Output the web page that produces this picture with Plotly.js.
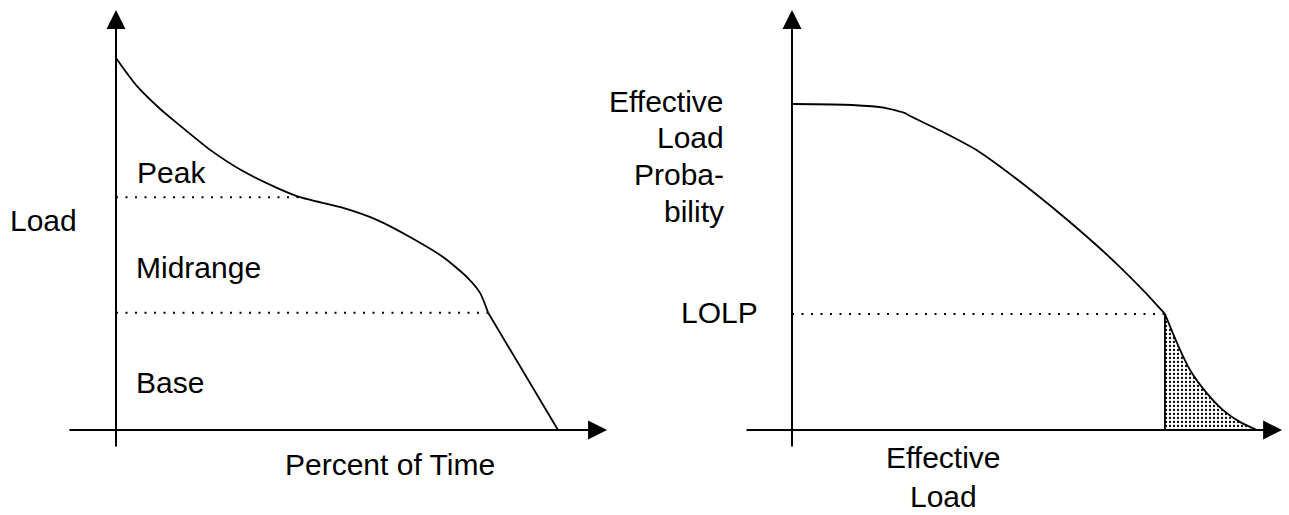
<!DOCTYPE html>
<html>
<head>
<meta charset="utf-8">
<script src="https://cdn.plot.ly/plotly-3.0.1.min.js"></script>
<style>
html,body{margin:0;padding:0;background:#fff;}
#chart{width:1289px;height:515px;}
</style>
</head>
<body>
<div id="chart"></div>
<script>
// ---------- Data ----------
// Left panel: load duration curve (x = percent of time, y = load)
const loadX = [0, 2.3, 4.7, 10.0, 13.8, 21.3, 28.7, 36.4, 41.6, 51.4, 59.0, 66.5, 74.0, 79.4, 82.4, 84.2];
const loadY = [100, 96.2, 92.5, 86.3, 82.5, 75.3, 69.6, 65.1, 62.6, 59.7, 56.5, 51.9, 46.5, 41.1, 36.8, 31.5];
const loadTailX = [84.2, 100];
const loadTailY = [31.5, 0];
const peakLevel = 62.6, peakEndX = 41.6;
const baseLevel = 31.5, baseEndX = 84.2;
const leftLabels = ["Load", "Peak", "Midrange", "Base", "Percent of Time"];

// Right panel: effective load probability curve
const elpX = [0, 12.9, 20.0, 24.3, 25.4, 32.9, 40.0, 48.6, 55.9, 63.0, 70.1, 75.9, 80.2];
const elpY = [1.0, 0.997, 0.988, 0.972, 0.963, 0.911, 0.856, 0.767, 0.684, 0.598, 0.506, 0.423, 0.356];
const tailX = [80.2, 82.8, 85.6, 89.2, 92.7, 96.3, 100];
const tailY = [0.356, 0.267, 0.184, 0.113, 0.061, 0.025, 0.0];
const lolp = 0.356, lolpX = 80.2;
const rightLabels = ["Effective", "Load", "Proba-", "bility", "LOLP", "Effective", "Load"];

// ---------- Layout helpers ----------
const W = 1289, H = 515;
const fx = px => px / W;
const fy = py => 1 - py / H;
const FONT = {family: "Liberation Sans, Arial, sans-serif", size: 30, color: "#000"};
const CURVE = {color: "#000", width: 1.8};
const DOT = {color: "#000", width: 2, dash: "2px,7.5px"};

const traces = [
  // left panel
  {x: loadX, y: loadY, xaxis: "x", yaxis: "y", mode: "lines", line: Object.assign({shape: "spline", smoothing: 0.6}, CURVE)},
  {x: loadTailX, y: loadTailY, xaxis: "x", yaxis: "y", mode: "lines", line: CURVE},
  {x: [0, peakEndX], y: [peakLevel, peakLevel], xaxis: "x", yaxis: "y", mode: "lines", line: DOT},
  {x: [0, baseEndX], y: [baseLevel, baseLevel], xaxis: "x", yaxis: "y", mode: "lines", line: DOT},
  // right panel
  {x: tailX, y: tailY, xaxis: "x2", yaxis: "y2", mode: "lines", fill: "tozeroy",
   fillcolor: "rgba(0,0,0,0)",
   fillpattern: {shape: ".", size: 4, solidity: 0.25, fgcolor: "#000", bgcolor: "#fff"},
   line: Object.assign({shape: "spline", smoothing: 0.8}, CURVE)},
  {x: elpX, y: elpY, xaxis: "x2", yaxis: "y2", mode: "lines", line: Object.assign({shape: "spline", smoothing: 0.6}, CURVE)},
  {x: [0, lolpX], y: [lolp, lolp], xaxis: "x2", yaxis: "y2", mode: "lines", line: DOT},
  {x: [lolpX, lolpX], y: [0, lolp], xaxis: "x2", yaxis: "y2", mode: "lines", line: CURVE}
];

function axisArrow(xref, yref, x0, y0, x1, y1) {
  return {xref: xref, yref: yref, axref: xref, ayref: yref, x: x1, y: y1, ax: x0, ay: y0,
    text: "", showarrow: true, arrowhead: 2, arrowsize: 1.9, arrowwidth: 2, arrowcolor: "#000",
    standoff: 0, startstandoff: 0};
}
function label(text, px, py, xanchor) {
  return {xref: "paper", yref: "paper", x: fx(px), y: fy(py), text: text, showarrow: false,
    xanchor: xanchor, yanchor: "middle", font: FONT, align: xanchor === "right" ? "right" : (xanchor === "center" ? "center" : "left")};
}

const annotations = [
  axisArrow("x", "y", 0, -4.84, 0, 112.9),
  axisArrow("x", "y", -10.86, 0, 111.1, 0),
  axisArrow("x2", "y2", 0, -0.055, 0, 1.288),
  axisArrow("x2", "y2", -10.1, 0, 105.4, 0),
  label(leftLabels[0], 8, 220.6, "left"),
  label(leftLabels[1], 135, 172.6, "left"),
  label(leftLabels[2], 134, 267.6, "left"),
  label(leftLabels[3], 134, 382.6, "left"),
  label(leftLabels[4], 283, 464.6, "left"),
  label(rightLabels[0], 725.5, 101.6, "right"),
  label(rightLabels[1], 725.5, 137.6, "right"),
  label(rightLabels[2], 725.5, 174.6, "right"),
  label(rightLabels[3], 725.5, 211.6, "right"),
  label(rightLabels[4], 679, 312.6, "left"),
  label(rightLabels[5], 943, 457.6, "center"),
  label(rightLabels[6], 943, 496.6, "center")
];

const hidden = {visible: false, fixedrange: true, autorange: false};
const layout = {
  width: W, height: H,
  margin: {l: 0, r: 0, t: 0, b: 0, pad: 0},
  paper_bgcolor: "#fff", plot_bgcolor: "rgba(0,0,0,0)",
  showlegend: false, hovermode: false,
  xaxis: Object.assign({domain: [0, 640 / W], range: [-26.244, 118.552], anchor: "y"}, hidden),
  yaxis: Object.assign({domain: [0, 1], range: [-22.849, 115.591], anchor: "x"}, hidden),
  xaxis2: Object.assign({domain: [640 / W, 1], range: [-32.688, 106.882], anchor: "y2"}, hidden),
  yaxis2: Object.assign({domain: [0, 1], range: [-0.26074, 1.31902], anchor: "x2"}, hidden),
  annotations: annotations
};

Plotly.newPlot("chart", traces, layout, {staticPlot: true, displayModeBar: false});
</script>
</body>
</html>
